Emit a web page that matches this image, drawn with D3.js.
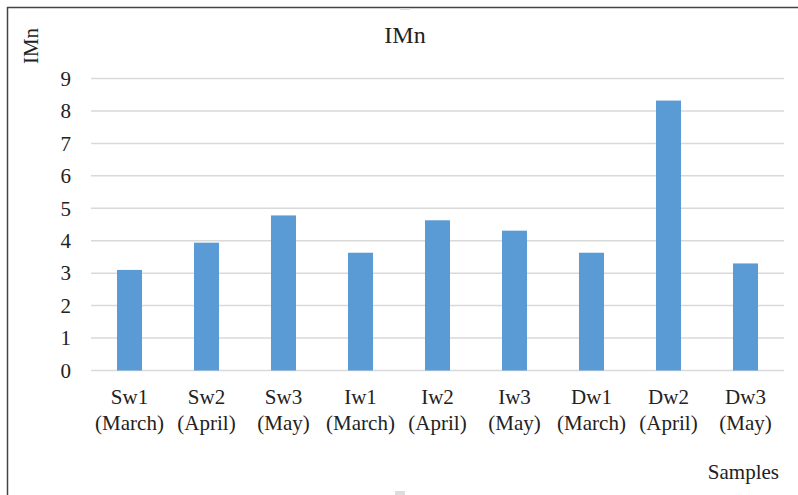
<!DOCTYPE html>
<meta charset="utf-8">
<title>IMn</title>
<script src="https://d3js.org/d3.v7.min.js"></script>
<style>
  body { margin: 0; background: #fff; }
</style>
<div id="chart"></div>
<script>
// data
var samples = ["Sw1", "Sw2", "Sw3", "Iw1", "Iw2", "Iw3", "Dw1", "Dw2", "Dw3"];
var months = ["(March)", "(April)", "(May)", "(March)", "(April)", "(May)", "(March)", "(April)", "(May)"];
var imn = [3.10, 3.94, 4.78, 3.63, 4.63, 4.31, 3.63, 8.32, 3.30];
var yTicks = [0, 1, 2, 3, 4, 5, 6, 7, 8, 9];

var FONT = "'Liberation Serif', 'Times New Roman', serif";
var W = 798, H = 495;
var margin = {top: 78.5, right: 14, bottom: 124.5, left: 91};
var width = W - margin.left - margin.right,
    height = H - margin.top - margin.bottom;

var svg = d3.select("#chart").append("svg")
  .attr("width", W)
  .attr("height", H);

// frame (only top and left edges visible)
svg.append("line").attr("x1", 7).attr("x2", W).attr("y1", 7.5).attr("y2", 7.5)
  .attr("stroke", "#444").attr("stroke-width", 1.5);
svg.append("line").attr("x1", 7.5).attr("x2", 7.5).attr("y1", 7).attr("y2", H)
  .attr("stroke", "#444").attr("stroke-width", 1.5);
// little resize handles of the frame
svg.append("rect").attr("x", 400).attr("y", 8).attr("width", 10).attr("height", 2).attr("fill", "#ddd");
svg.append("rect").attr("x", 395).attr("y", 491).attr("width", 10).attr("height", 4).attr("fill", "#ddd");

var g = svg.append("g")
  .attr("transform", "translate(" + margin.left + "," + margin.top + ")");

var x = d3.scaleBand()
  .domain(samples)
  .range([0, width])
  .paddingInner(0.675)
  .paddingOuter(0.3375);

var y = d3.scaleLinear()
  .domain([0, 9])
  .range([height, 0]);

// grid
g.selectAll(".grid")
  .data(yTicks)
  .enter().append("line")
  .attr("x1", 0).attr("x2", width)
  .attr("y1", function(d) { return y(d); })
  .attr("y2", function(d) { return y(d); })
  .attr("stroke", "#d9d9d9")
  .attr("stroke-width", 1.5);

// y axis labels
var yAxis = g.append("g")
  .attr("transform", "translate(-20,0)")
  .call(d3.axisLeft(y).tickValues(yTicks).tickSize(0).tickPadding(0));
yAxis.select(".domain").remove();
yAxis.selectAll("text")
  .style("font-family", FONT)
  .style("font-size", "21px")
  .attr("fill", "#222");

// bars
g.selectAll(".bar")
  .data(imn)
  .enter().append("rect")
  .attr("x", function(d, i) { return x(samples[i]); })
  .attr("y", function(d) { return y(d); })
  .attr("width", x.bandwidth())
  .attr("height", function(d) { return height - y(d); })
  .attr("fill", "#5b9bd5");

// category labels
var lab = g.selectAll(".lab")
  .data(samples)
  .enter().append("text")
  .attr("text-anchor", "middle")
  .style("font-family", FONT)
  .style("font-size", "21px")
  .attr("fill", "#222");
lab.append("tspan")
  .attr("x", function(d) { return x(d) + x.bandwidth() / 2; })
  .attr("y", height + 33.5)
  .text(function(d) { return d; });
lab.append("tspan")
  .attr("x", function(d) { return x(d) + x.bandwidth() / 2; })
  .attr("y", height + 59.5)
  .text(function(d, i) { return months[i]; });

// title
svg.append("text")
  .attr("x", 405).attr("y", 43)
  .attr("text-anchor", "middle")
  .style("font-family", FONT)
  .style("font-size", "24px")
  .attr("fill", "#222")
  .text("IMn");

// y axis title
svg.append("text")
  .attr("transform", "translate(38,46) rotate(-90)")
  .attr("text-anchor", "middle")
  .style("font-family", FONT)
  .style("font-size", "21px")
  .attr("fill", "#222")
  .text("IMn");

// x axis title
svg.append("text")
  .attr("x", 779).attr("y", 479)
  .attr("text-anchor", "end")
  .style("font-family", FONT)
  .style("font-size", "21px")
  .attr("fill", "#222")
  .text("Samples");
</script>
